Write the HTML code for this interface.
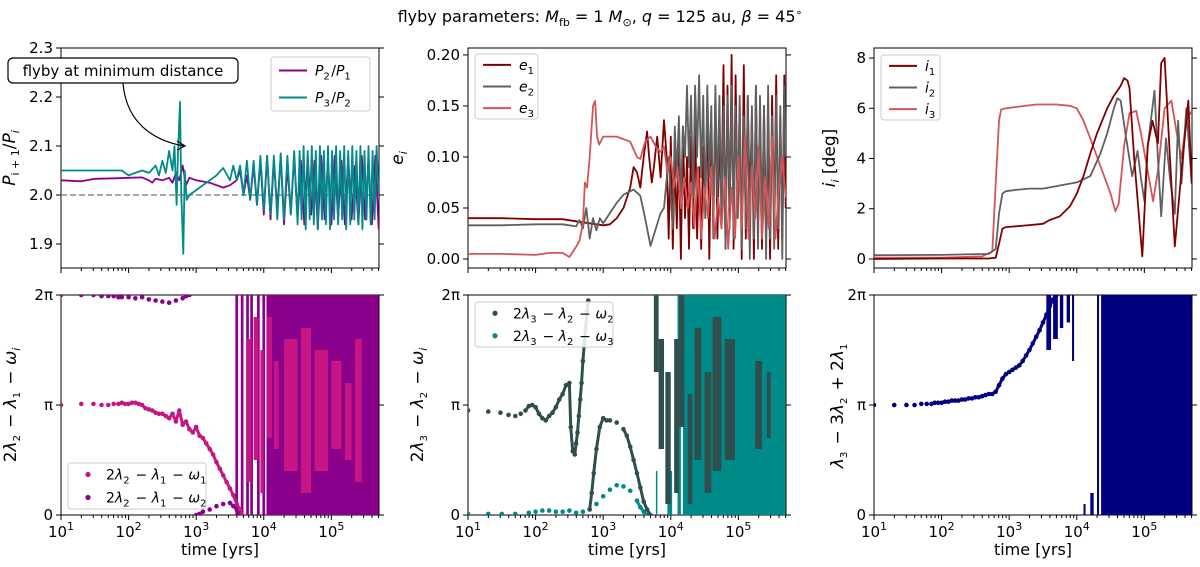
<!DOCTYPE html>
<html><head><meta charset="utf-8"><style>
body{margin:0;background:#fff;}
svg{display:block;font-family:"DejaVu Sans","Liberation Sans",sans-serif;}
.tk{font-size:15px;fill:#000;}
</style></head><body>
<svg id="fig" width="1200" height="567" viewBox="0 0 1200 567" xmlns="http://www.w3.org/2000/svg">
<text x="600" y="22" text-anchor="middle" font-size="16">flyby parameters: <tspan font-style="italic">M</tspan><tspan font-size="11" dy="4">fb</tspan><tspan dy="-4"> = 1 </tspan><tspan font-style="italic">M</tspan><tspan font-size="11" dy="4">⊙</tspan><tspan dy="-4">, </tspan><tspan font-style="italic">q</tspan> = 125 au, <tspan font-style="italic">β</tspan> = 45<tspan font-size="11" dy="-6">∘</tspan></text>
<g id="layer"></g>
</svg>
<script>
// ---------- DATA ----------
const xTickDecades=[1,2,3,4,5];
const ratioTicks=[1.9,2.0,2.1,2.2,2.3];
const eccTicks=[0.00,0.05,0.10,0.15,0.20];
const incTicks=[0,2,4,6,8];
const angTickVals=[0,1,2];
const angTickLabels=["0","π","2π"];

const p21T=[1,1.3,1.5,1.8,2.0,2.2,2.3,2.35,2.4,2.5,2.6,2.65,2.7,2.75,2.8,2.85,2.9,3.0,3.2,3.4,3.5,3.6,3.65,3.7,3.75,3.8,3.85,3.9,3.95,4.0,4.05,4.1,4.15,4.2,4.25,4.3,4.35,4.4,4.45,4.5,4.55,4.6,4.65,4.7,4.75,4.8,4.85,4.9,4.95,5.0,5.05,5.1,5.15,5.2,5.25,5.3,5.35,5.4,5.45,5.5,5.55,5.6,5.65,5.7];
const p21V=[2.03,2.028,2.033,2.034,2.035,2.036,2.03,2.025,2.033,2.03,2.035,2.025,2.045,2.03,2.06,2.02,2.035,2.03,2.025,2.015,2.02,2.03,2.05,2.0,2.04,1.99,2.06,1.98,2.07,1.96,2.08,1.95,2.07,1.97,2.08,1.94,2.06,1.96,2.08,1.95,2.07,1.94,2.08,1.96,2.07,1.93,2.08,1.95,2.07,1.94,2.08,1.95,2.07,1.94,2.08,1.95,2.06,1.94,2.08,1.95,2.07,1.94,2.08,1.93];
const p32T=[1,1.5,1.9,2.0,2.1,2.2,2.3,2.4,2.45,2.5,2.55,2.6,2.65,2.68,2.71,2.73,2.76,2.78,2.81,2.83,2.86,2.9,3.0,3.1,3.2,3.3,3.4,3.5,3.55,3.6,3.65,3.7,3.75,3.8,3.85,3.9,3.95,4.0,4.05,4.1,4.15,4.2,4.25,4.3,4.35,4.4,4.45,4.5,4.53,4.56,4.59,4.62,4.65,4.68,4.71,4.74,4.77,4.8,4.83,4.86,4.89,4.92,4.95,4.98,5.01,5.04,5.07,5.1,5.13,5.16,5.19,5.22,5.25,5.28,5.31,5.34,5.37,5.4,5.43,5.46,5.49,5.52,5.55,5.58,5.61,5.64,5.67,5.7];
const p32V=[2.05,2.05,2.05,2.04,2.045,2.05,2.045,2.06,2.04,2.07,2.045,2.09,2.05,2.1,1.98,2.08,2.19,2.0,1.88,2.05,1.99,2.0,2.01,2.02,2.03,2.04,2.055,2.03,2.06,2.03,2.06,2.0,2.07,1.99,2.07,1.98,2.08,1.97,2.08,1.96,2.08,1.95,2.085,1.95,2.08,1.96,2.09,1.94,2.09,1.95,2.1,1.93,2.09,1.95,2.1,1.94,2.09,1.93,2.1,1.95,2.09,1.94,2.1,1.93,2.09,1.95,2.1,1.94,2.09,1.95,2.1,1.93,2.09,1.94,2.1,1.95,2.09,1.94,2.1,1.93,2.09,1.95,2.1,1.94,2.09,1.95,2.1,2.0];

const e1T=[1,1.5,2.0,2.4,2.6,2.8,3.0,3.1,3.2,3.3,3.4,3.45,3.5,3.55,3.6,3.65,3.68,3.72,3.75,3.8,3.85,3.9,3.94,3.97,4.0,4.03,4.06,4.09,4.12,4.15,4.18,4.21,4.24,4.27,4.3,4.33,4.36,4.39,4.42,4.45,4.48,4.51,4.54,4.57,4.6,4.63,4.66,4.69,4.72,4.75,4.78,4.81,4.84,4.87,4.9,4.93,4.96,4.99,5.02,5.05,5.08,5.11,5.14,5.17,5.2,5.23,5.26,5.29,5.32,5.35,5.38,5.41,5.44,5.47,5.5,5.53,5.56,5.59,5.62,5.65,5.68,5.7];
const e1V=[0.04,0.04,0.039,0.039,0.037,0.035,0.033,0.034,0.04,0.05,0.07,0.09,0.085,0.07,0.1,0.125,0.1,0.075,0.09,0.12,0.08,0.136,0.1,0.02,0.12,0.01,0.1,0.03,0.11,0.0,0.13,0.04,0.1,0.01,0.12,0.03,0.14,0.02,0.09,0.01,0.11,0.05,0.15,0.0,0.13,0.04,0.16,0.02,0.12,0.06,0.19,0.01,0.17,0.03,0.2,0.01,0.18,0.04,0.15,0.0,0.19,0.02,0.16,0.05,0.14,0.0,0.17,0.03,0.12,0.01,0.15,0.02,0.13,0.0,0.16,0.03,0.18,0.01,0.14,0.02,0.18,0.05];
const e2T=[1,1.5,2.0,2.4,2.6,2.65,2.7,2.75,2.8,2.85,2.9,2.95,3.0,3.1,3.2,3.3,3.45,3.55,3.62,3.7,3.78,3.85,3.9,3.97,4.0,4.03,4.06,4.09,4.12,4.15,4.18,4.21,4.24,4.27,4.3,4.33,4.36,4.39,4.42,4.45,4.48,4.51,4.54,4.57,4.6,4.63,4.66,4.69,4.72,4.75,4.78,4.81,4.84,4.87,4.9,4.93,4.96,4.99,5.02,5.05,5.08,5.11,5.14,5.17,5.2,5.23,5.26,5.29,5.32,5.35,5.38,5.41,5.44,5.47,5.5,5.53,5.56,5.59,5.62,5.65,5.68,5.7];
const e2V=[0.033,0.033,0.034,0.034,0.032,0.038,0.03,0.05,0.02,0.04,0.028,0.04,0.035,0.045,0.055,0.063,0.068,0.062,0.04,0.013,0.03,0.045,0.05,0.1,0.06,0.03,0.13,0.08,0.14,0.05,0.13,0.1,0.17,0.09,0.16,0.06,0.17,0.1,0.18,0.08,0.16,0.04,0.17,0.08,0.15,0.02,0.17,0.06,0.16,0.03,0.15,0.01,0.16,0.05,0.17,0.02,0.15,0.04,0.16,0.01,0.14,0.03,0.16,0.0,0.15,0.02,0.17,0.01,0.16,0.03,0.15,0.0,0.17,0.02,0.14,0.01,0.16,0.03,0.15,0.0,0.17,0.1];
const e3T=[1,1.5,2.0,2.2,2.4,2.5,2.6,2.65,2.7,2.73,2.76,2.8,2.85,2.88,2.91,2.94,3.0,3.2,3.4,3.5,3.55,3.62,3.7,3.78,3.85,3.9,3.95,4.0,4.05,4.1,4.15,4.2,4.25,4.3,4.35,4.4,4.45,4.5,4.55,4.6,4.65,4.7,4.75,4.8,4.85,4.9,4.95,5.0,5.05,5.1,5.15,5.2,5.25,5.3,5.35,5.4,5.45,5.5,5.55,5.6,5.65,5.7];
const e3V=[0.005,0.005,0.004,0.006,0.006,0.002,0.012,0.018,0.035,0.075,0.07,0.1,0.15,0.155,0.12,0.112,0.12,0.12,0.115,0.1,0.098,0.115,0.12,0.11,0.105,0.11,0.085,0.1,0.07,0.09,0.05,0.08,0.05,0.075,0.03,0.09,0.02,0.07,0.04,0.09,0.02,0.06,0.03,0.08,0.01,0.07,0.02,0.1,0.03,0.12,0.02,0.09,0.04,0.11,0.02,0.08,0.03,0.12,0.02,0.07,0.1,0.06];

const i1T=[1,2.0,2.7,2.8,2.85,2.9,2.95,3.1,3.3,3.5,3.6,3.75,3.9,4.0,4.1,4.2,4.3,4.45,4.55,4.65,4.7,4.75,4.78,4.85,4.97,5.05,5.12,5.2,5.25,5.3,5.38,5.45,5.55,5.65,5.7];
const i1V=[0.0,0.02,0.02,0.05,0.6,1.2,1.27,1.3,1.35,1.4,1.55,1.7,2.1,2.6,3.3,4.2,5.0,6.0,6.5,6.9,7.2,7.1,6.8,4.0,0.1,4.5,5.5,4.6,7.8,8.0,4.0,0.5,3.5,6.3,3.0];
const i2T=[1,2.0,2.7,2.8,2.85,2.9,2.95,3.1,3.3,3.5,3.8,4.0,4.2,4.35,4.45,4.55,4.6,4.65,4.72,4.82,4.9,4.95,5.0,5.05,5.15,5.2,5.25,5.32,5.38,5.45,5.5,5.55,5.62,5.7];
const i2V=[0.15,0.16,0.2,0.4,1.8,2.6,2.7,2.75,2.8,2.8,2.95,3.05,3.3,4.2,5.0,6.0,6.4,6.3,5.0,3.3,4.3,3.2,2.3,4.5,6.7,4.0,1.7,4.8,3.2,1.8,5.5,3.0,6.0,3.0];
const i3T=[1,2.0,2.6,2.75,2.8,2.85,2.88,2.95,3.1,3.4,3.7,3.9,4.0,4.1,4.2,4.35,4.5,4.57,4.62,4.7,4.78,4.88,4.95,5.05,5.13,5.2,5.3,5.4,5.48,5.55,5.62,5.7];
const i3V=[0.05,0.05,0.1,0.3,3.0,5.5,5.95,6.0,6.05,6.15,6.15,6.1,6.0,5.5,4.8,3.7,2.6,1.9,2.2,4.5,5.8,5.9,5.0,3.5,2.3,3.5,6.0,6.3,5.0,4.0,5.5,5.9];

const r1T=[1,1.3,1.48,1.6,1.7,1.78,1.85,1.9,1.95,2.0,2.05,2.1,2.15,2.2,2.25,2.3,2.35,2.4,2.45,2.5,2.55,2.6,2.65,2.7,2.75,2.8,2.85,2.9,2.95,3.0,3.05,3.1,3.15,3.2,3.25,3.3,3.35,3.4,3.45,3.5,3.55,3.6,3.65,3.68];
const r1V=[1.0,1.01,1.01,1.0,1.0,1.01,1.01,1.02,1.01,1.01,1.02,1.02,1.01,1.0,0.97,0.96,0.95,0.93,0.92,0.92,0.9,0.88,0.92,0.85,0.95,0.82,0.85,0.78,0.75,0.8,0.72,0.7,0.65,0.6,0.55,0.48,0.42,0.36,0.3,0.24,0.18,0.1,0.05,0.0];
const r2T=[1,1.3,1.48,1.6,1.7,1.78,1.85,1.9,2.0,2.1,2.2,2.3,2.4,2.5,2.6,2.7,2.8,2.85,2.9,3.0,3.05,3.1,3.2,3.3,3.4,3.5,3.55,3.6,3.65];
const r2V=[2.0,2.0,2.0,1.99,1.99,1.99,1.98,1.98,1.98,1.97,1.98,1.96,1.95,1.94,1.93,1.95,1.97,1.99,2.0,0.0,0.01,0.03,0.05,0.08,0.1,0.11,0.08,0.05,0.0];
const r1Bands=[[3.75,3.82,0.3,1.6],[3.85,3.92,0.5,1.8],[3.95,4.0,0.2,1.5],[4.05,4.12,0.7,1.8],[4.15,4.22,0.6,1.4],[4.3,4.5,0.4,1.6],[4.55,4.7,0.2,1.7],[4.75,4.95,0.4,1.5],[5.0,5.15,0.6,1.4],[5.2,5.3,0.5,1.2],[5.35,5.45,0.3,1.6]];
const r2Bands=[[3.58,3.62,0.0,2.0],[3.66,3.7,0.0,2.0],[3.74,3.78,0.0,2.0],[3.8,3.84,0.0,2.0],[3.9,3.94,0.0,2.0],[3.98,4.02,0.0,2.0],[4.04,5.7,0.0,2.0]];

const s2T=[1,1.3,1.48,1.6,1.7,1.78,1.85,1.9,1.95,2.0,2.05,2.1,2.15,2.2,2.25,2.3,2.35,2.4,2.45,2.5,2.52,2.55,2.58,2.6,2.62,2.64,2.66,2.68,2.7,2.72,2.74,2.76,2.78,2.8,2.83,2.86,2.9,2.95,3.0,3.05,3.1,3.2,3.3,3.35,3.4,3.45,3.5,3.55,3.6,3.65,3.7];
const s2V=[0.95,0.94,0.93,0.91,0.9,0.92,0.95,0.99,1.0,0.98,0.92,0.88,0.86,0.9,0.93,0.98,1.05,1.1,1.18,1.2,0.8,0.58,0.55,0.65,0.75,0.9,1.05,1.2,1.4,1.55,1.7,1.85,1.95,0.05,0.2,0.38,0.6,0.8,0.88,0.86,0.86,0.84,0.78,0.72,0.62,0.5,0.38,0.25,0.12,0.05,0.0];
const s3T=[1,1.3,1.5,1.7,1.9,2.0,2.1,2.2,2.3,2.4,2.5,2.6,2.7,2.8,2.9,3.0,3.1,3.2,3.3,3.4,3.5,3.55,3.6,3.65];
const s3V=[0.01,0.01,0.01,0.01,0.02,0.03,0.04,0.04,0.03,0.03,0.04,0.02,0.03,0.05,0.1,0.17,0.23,0.27,0.26,0.22,0.13,0.07,0.03,0.0];
const s2Bands=[[3.75,3.82,1.3,2.0],[3.82,3.9,0.6,1.6],[3.92,4.0,0.1,1.3],[4.05,4.12,0.2,1.6],[4.12,4.2,0.8,2.0],[4.25,4.32,0.1,1.1],[4.35,4.45,0.5,1.7],[4.5,4.6,0.2,1.3],[4.62,4.75,0.4,1.8],[4.8,4.95,0.5,1.6],[5.25,5.35,0.6,1.4],[5.42,5.48,0.7,1.3]];
const s3Bands=[[3.78,3.8,0.0,0.4],[3.95,4.02,0.0,0.4],[4.1,4.15,0.0,2.0],[4.18,5.7,0.0,2.0]];

const t3T=[1,1.3,1.48,1.6,1.7,1.78,1.85,1.9,1.95,2.0,2.05,2.1,2.15,2.2,2.25,2.3,2.35,2.4,2.45,2.5,2.55,2.6,2.65,2.7,2.75,2.8,2.85,2.9,2.95,3.0,3.05,3.1,3.15,3.2,3.25,3.3,3.35,3.4,3.45,3.5,3.55,3.6,3.65,3.7];
const t3V=[1.0,1.0,1.0,1.0,1.01,1.01,1.01,1.02,1.02,1.02,1.03,1.03,1.04,1.04,1.04,1.05,1.05,1.06,1.06,1.07,1.07,1.08,1.09,1.1,1.1,1.12,1.18,1.24,1.28,1.3,1.32,1.34,1.36,1.4,1.45,1.5,1.56,1.62,1.68,1.75,1.82,1.9,1.96,2.0];
const t3Bands=[[3.55,3.62,1.5,2.0],[3.65,3.72,1.6,2.0],[3.75,3.8,1.7,2.0],[3.85,3.9,1.75,2.0],[3.93,3.96,1.4,2.0],[4.1,4.13,0.0,0.1],[4.2,4.25,0.0,0.2],[4.3,4.33,0.0,2.0],[4.36,5.7,0.0,2.0]];

// ---------- DRAW ----------
const NS="http://www.w3.org/2000/svg";
const layer=document.getElementById('layer');
function mk(tag,attrs,parent){const e=document.createElementNS(NS,tag);for(const k in attrs)e.setAttribute(k,attrs[k]);(parent||layer).appendChild(e);return e;}
const colX=[61,468,874], W=318, topY=[48,268], botY=[295,515];
const LMIN=1, LMAX=5.705;
const titleOff=[[46,65,39],[45,45,31]];
function xs(c){return l=>colX[c]+(l-LMIN)/(LMAX-LMIN)*W;}
function ys(row,d0,d1){const r=row?botY:topY;return v=>r[1]-(v-d0)/(d1-d0)*(r[1]-r[0]);}

function axes(c,row,name,showX){
  const x0=colX[c],r=row?botY:topY;
  const g=mk('g',{});
  
  
  const fr=mk('rect',{x:x0,y:r[0],width:W,height:r[1]-r[0],fill:'none',stroke:'#000','stroke-width':1},g);
  
  
  const sx=xs(c);
  for(let d=1;d<=5;d++){for(let m=1;m<10;m++){const l=d+Math.log10(m);if(l>LMAX)break;const X=sx(l);mk('line',{x1:X,x2:X,y1:r[1],y2:r[1]+(m==1?5:3),stroke:'#000','stroke-width':1},g);}}
  if(showX){xTickDecades.forEach(d=>{const t=mk('text',{x:sx(d),y:r[1]+22,'text-anchor':'middle',class:'tk'},g);
    
    
    t.innerHTML='10<tspan font-size="11" dy="-7">'+d+'</tspan>';});
    const xl=mk('text',{x:x0+W/2,y:555,'text-anchor':'middle','font-size':16},g);
    
    
    xl.textContent='time [yrs]';}
  return g;
}
function yticks(g,c,ticks,labels,sy){
  const x0=colX[c];
  ticks.forEach((v,i)=>{const Y=sy(v);
    mk('line',{x1:x0-5,x2:x0,y1:Y,y2:Y,stroke:'#000'},g);
    mk('line',{x1:x0+W,x2:x0+W+5,y1:Y,y2:Y,stroke:'#000'},g);
    const t=mk('text',{x:x0-8,y:Y+5,'text-anchor':'end',class:'tk'},g);
    
    
    t.textContent=labels[i];});
}
function ytitle(c,row,html,name){
  const x=colX[c]-titleOff[row][c],r=row?botY:topY,cy=(r[0]+r[1])/2;
  const t=mk('text',{x:x,y:cy,'text-anchor':'middle','font-size':17,transform:`rotate(-90 ${x} ${cy})`});
  
  
  t.innerHTML=html;
}
function clip(c,row,id){const r=row?botY:topY;const cp=mk('clipPath',{id:id});mk('rect',{x:colX[c],y:r[0],width:W,height:r[1]-r[0]},cp);return 'url(#'+id+')';}
function line(T,V,sx,sy,color,name,cl,w){
  const p=mk('polyline',{points:T.map((t,i)=>sx(t).toFixed(1)+','+sy(V[i]).toFixed(1)).join(' '),fill:'none',stroke:color,'stroke-width':w||1.8,'stroke-linejoin':'round','clip-path':cl});
  
  
}
function dots(T,V,sx,sy,color,name,cl){
  const g=mk('g',{'clip-path':cl,fill:color,stroke:color});
  
  
  T.forEach((t,i)=>{mk('circle',{cx:sx(t),cy:sy(V[i]),r:2.3,stroke:'none'},g);
    if(i>0&&t-T[i-1]<=0.055&&Math.abs(V[i]-V[i-1])<0.5)mk('line',{x1:sx(T[i-1]),y1:sy(V[i-1]),x2:sx(t),y2:sy(V[i]),'stroke-width':3,'stroke-linecap':'round'},g);});
}
function bands(B,sx,sy,color,name,cl){
  const g=mk('g',{'clip-path':cl,fill:color});
  
  
  B.forEach(b=>mk('rect',{x:sx(b[0]),y:sy(b[3]),width:Math.max(1.5,sx(b[1])-sx(b[0])),height:sy(b[2])-sy(b[3])},g));
}
function legend(x,y,w,h,items,kind,name){
  const g=mk('g',{});
  
  
  mk('rect',{x:x,y:y,width:w,height:h,rx:3,fill:'#fff','fill-opacity':0.85,stroke:'#ccc'},g);
  const step=h/items.length;
  items.forEach((it,i)=>{const cy=y+step*(i+0.5);
    if(kind=='line')mk('line',{x1:x+8,x2:x+36,y1:cy,y2:cy,stroke:it[0],'stroke-width':2},g);
    else mk('circle',{cx:x+20,cy:cy,r:2.6,fill:it[0]},g);
    const t=mk('text',{x:x+(kind=='line'?44:38),y:cy+5,'font-size':14},g);
    
    
    t.innerHTML=it[1];});
}
const sub=s=>'<tspan font-size="10" dy="4">'+s+'</tspan><tspan dy="-4">\u200a</tspan>';
const it=s=>'<tspan font-style="italic">'+s+'</tspan>';

// Panel 1
{const sx=xs(0),sy=ys(0,1.851,2.3);const g=axes(0,0,'period-ratio',false);
 yticks(g,0,ratioTicks,ratioTicks.map(v=>v.toFixed(1)),sy);
 const cl=clip(0,0,'c1');
 const d=mk('line',{x1:colX[0],x2:colX[0]+W,y1:sy(2.0),y2:sy(2.0),stroke:'#888','stroke-width':1.5,'stroke-dasharray':'6,3'});
 
 
 line(p21T,p21V,sx,sy,'#8b008b','series-p2-p1',cl);
 line(p32T,p32V,sx,sy,'#008b8b','series-p3-p2',cl);
 ytitle(0,0,it('P')+'<tspan font-size="11" dy="4">i + 1</tspan><tspan dy="-4">/</tspan>'+it('P')+'<tspan font-size="11" dy="4" font-style="italic">i</tspan>','y-axis-title-ratio');
 legend(271,57,99,54,[['#8b008b',it('P')+sub('2')+'/'+it('P')+sub('1')],['#008b8b',it('P')+sub('3')+'/'+it('P')+sub('2')]],'line','legend-period');
 const ag=mk('g',{});
 
 
 mk('rect',{x:8,y:58,width:230,height:25,rx:5,fill:'#fff',stroke:'#000','stroke-width':1.2},ag);
 const at=mk('text',{x:123,y:76,'text-anchor':'middle','font-size':15},ag);at.textContent='flyby at minimum distance';
 mk('path',{d:'M123 83 C126 120 150 140 184 146',fill:'none',stroke:'#000','stroke-width':1.2},ag);
 mk('path',{d:'M177 141 L185 146 L177 150',fill:'none',stroke:'#000','stroke-width':1.2},ag);
}
// Panel 2
{const sx=xs(1),sy=ys(0,-0.0088,0.2068);const g=axes(1,0,'eccentricity',false);
 yticks(g,1,eccTicks,eccTicks.map(v=>v.toFixed(2)),sy);
 const cl=clip(1,0,'c2');
 line(e1T,e1V,sx,sy,'#800000','series-e1',cl);
 line(e2T,e2V,sx,sy,'#606060','series-e2',cl);
 line(e3T,e3V,sx,sy,'#d45555','series-e3',cl);
 ytitle(1,0,it('e')+'<tspan font-size="11" dy="4" font-style="italic">i</tspan>','y-axis-title-ecc');
 legend(475,54,63,65,[['#800000',it('e')+sub('1')],['#606060',it('e')+sub('2')],['#d45555',it('e')+sub('3')]],'line','legend-ecc');
}
// Panel 3
{const sx=xs(2),sy=ys(0,-0.36,8.4);const g=axes(2,0,'inclination',false);
 yticks(g,2,incTicks,incTicks.map(String),sy);
 const cl=clip(2,0,'c3');
 line(i3T,i3V,sx,sy,'#d45555','series-i3',cl);
 line(i2T,i2V,sx,sy,'#606060','series-i2',cl);
 line(i1T,i1V,sx,sy,'#800000','series-i1',cl);
 ytitle(2,0,it('i')+'<tspan font-size="11" dy="4" font-style="italic">i</tspan><tspan dy="-4"> [deg]</tspan>','y-axis-title-inc');
 legend(881,55,59,65,[['#800000',it('i')+sub('1')],['#606060',it('i')+sub('2')],['#d45555',it('i')+sub('3')]],'line','legend-inc');
}
// Panel 4
{const sx=xs(0),sy=ys(1,0,2);const g=axes(0,1,'angle-12',true);
 yticks(g,0,angTickVals,angTickLabels,sy);
 const cl=clip(0,1,'c4');
 dots(r2T,r2V,sx,sy,'#8b008b','series-phi-w2',cl);
 bands(r2Bands,sx,sy,'#8b008b','band-phi-w2',cl);
 dots(r1T,r1V,sx,sy,'#c71585','series-phi-w1',cl);
 bands(r1Bands,sx,sy,'#c71585','band-phi-w1',cl);
 ytitle(0,1,'2'+it('λ')+sub('2')+' − '+it('λ')+sub('1')+' − '+it('ω')+'<tspan font-size="11" dy="4" font-style="italic">i</tspan>','y-axis-title-angle-12');
 legend(68,463,138,46,[['#c71585','2'+it('λ')+sub('2')+' − '+it('λ')+sub('1')+' − '+it('ω')+sub('1')],['#8b008b','2'+it('λ')+sub('2')+' − '+it('λ')+sub('1')+' − '+it('ω')+sub('2')]],'dot','legend-angle-12');
}
// Panel 5
{const sx=xs(1),sy=ys(1,0,2);const g=axes(1,1,'angle-23',true);
 yticks(g,1,angTickVals,angTickLabels,sy);
 const cl=clip(1,1,'c5');
 dots(s3T,s3V,sx,sy,'#008b8b','series-phi-w3',cl);
 bands(s3Bands,sx,sy,'#008b8b','band-phi-w3',cl);
 dots(s2T,s2V,sx,sy,'#2f4f4f','series-phi-w2b',cl);
 bands(s2Bands,sx,sy,'#2f4f4f','band-phi-w2b',cl);
 ytitle(1,1,'2'+it('λ')+sub('3')+' − '+it('λ')+sub('2')+' − '+it('ω')+'<tspan font-size="11" dy="4" font-style="italic">i</tspan>','y-axis-title-angle-23');
 legend(475,302,138,45,[['#2f4f4f','2'+it('λ')+sub('3')+' − '+it('λ')+sub('2')+' − '+it('ω')+sub('2')],['#008b8b','2'+it('λ')+sub('3')+' − '+it('λ')+sub('2')+' − '+it('ω')+sub('3')]],'dot','legend-angle-23');
}
// Panel 6
{const sx=xs(2),sy=ys(1,0,2);const g=axes(2,1,'angle-123',true);
 yticks(g,2,angTickVals,angTickLabels,sy);
 const cl=clip(2,1,'c6');
 dots(t3T,t3V,sx,sy,'#000080','series-three-body',cl);
 bands(t3Bands,sx,sy,'#000080','band-three-body',cl);
 ytitle(2,1,it('λ')+sub('3')+' − 3'+it('λ')+sub('2')+' + 2'+it('λ')+sub('1'),'y-axis-title-angle-123');
}
</script>
</body></html>
